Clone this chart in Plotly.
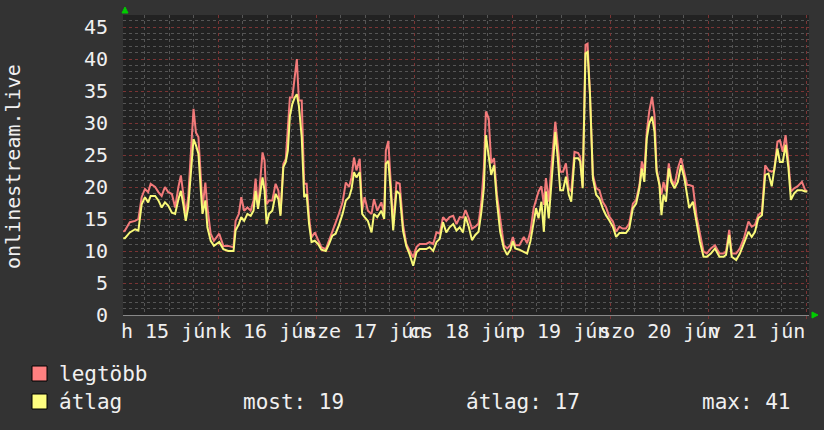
import plotly.graph_objects as go

# ---- data (hours since Mon 15 Jun 00:00) ----
hours = [0.8, 1.2, 2.4, 3.7, 4.5, 5.3, 6.1, 6.9, 7.5, 8.6, 9.4, 10.2, 11.0, 11.8, 12.7, 13.5, 14.3, 14.9,
         15.5, 16.1, 16.7, 17.3, 18.0, 18.6, 19.2, 19.8, 20.2, 20.9, 21.4, 22.2, 23.0, 24.3, 25.3, 26.5,
         27.8, 28.3, 29.1, 29.7, 30.4, 31.2, 32.0, 32.7, 33.2, 33.8, 34.4, 34.9, 35.4, 35.9, 36.5, 37.3,
         38.1, 38.8, 39.3, 40.0, 40.6, 41.1, 41.6, 42.2, 42.8, 43.3, 43.8, 44.5, 45.1, 45.7, 46.3, 46.9,
         47.7, 48.5, 49.3, 50.4, 51.2, 52.0, 52.8, 53.6, 54.5, 55.3, 56.1, 56.7, 57.3, 57.9, 58.7, 59.3,
         59.9, 60.7, 61.6, 62.2, 63.0, 64.0, 64.7, 65.1, 65.7, 66.3, 66.9, 67.7, 68.5, 69.3, 70.1, 70.9,
         71.8, 72.6, 73.4, 74.2, 75.0, 75.8, 76.7, 77.5, 78.3, 79.1, 79.9, 80.7, 81.6, 82.4, 83.2, 84.0,
         84.6, 85.4, 86.2, 87.0, 87.8, 88.5, 89.1, 89.6, 90.3, 90.9, 91.6, 92.3, 93.1, 94.0, 94.8, 95.6,
         96.2, 96.8, 97.8, 98.9, 99.7, 100.5, 101.3, 101.9, 102.5, 103.2, 103.8, 104.3, 105.0, 105.6,
         106.2, 106.6, 107.2, 107.8, 108.5, 109.2, 109.9, 110.5, 111.3, 112.2, 112.7, 113.3, 114.0,
         114.5, 115.1, 115.8, 116.6, 117.4, 118.2, 119.0, 119.8, 120.7, 121.5, 122.3, 123.1, 123.9,
         124.7, 125.6, 126.4, 127.2, 127.8, 128.4, 129.0, 129.6, 130.3, 130.9, 131.4, 132.1, 132.6,
         133.1, 133.7, 134.4, 135.0, 135.8, 136.6, 137.4, 138.2, 138.9, 139.4, 140.3, 141.2, 142.0,
         142.9, 143.7, 144.7, 145.7, 146.8, 147.8, 148.4, 149.2, 149.8, 150.9, 151.8, 152.8, 153.9,
         154.7, 155.5, 156.3, 157.2, 158.0, 158.8, 159.6, 160.2, 161.0, 161.6, 162.3, 163.0, 163.7,
         164.3, 165.1, 165.9, 167.0, 167.8, 168.3]

legtobb = [13.0, 13.2, 14.5, 14.7, 15.0, 18.4, 19.7, 19.2, 20.5, 20.0, 19.2, 18.6, 20.0, 19.2, 18.9, 16.8, 20.0, 21.8,
           18.9, 15.8, 18.4, 24.1, 32.2, 28.5, 27.8, 21.5, 16.8, 20.7, 16.8, 12.7, 11.6, 12.7, 10.8, 10.8,
           10.6, 14.7, 15.8, 18.4, 16.3, 16.8, 16.3, 17.9, 21.3, 16.8, 21.5, 25.4, 24.1, 17.3, 17.9, 17.9,
           20.5, 19.4, 15.8, 23.6, 24.4, 28.8, 34.0, 34.0, 37.9, 40.0, 33.5, 33.5, 20.5, 20.5, 15.3, 12.1,
           12.9, 11.6, 10.6, 10.3, 11.6, 13.2, 14.2, 15.8, 17.6, 20.7, 20.0, 21.5, 24.6, 22.6, 24.4, 16.3,
           18.4, 16.3, 15.8, 18.1, 16.3, 17.6, 15.8, 25.7, 27.2, 20.5, 14.2, 20.7, 20.5, 14.2, 11.1, 10.1,
           9.0, 10.6, 11.1, 11.1, 11.1, 11.4, 11.1, 12.9, 12.7, 15.3, 14.7, 15.3, 15.5, 14.2, 15.3, 15.2,
           16.4, 15.1, 13.5, 13.8, 14.3, 17.7, 22.9, 31.8, 30.7, 23.7, 24.5, 18.8, 14.8, 10.9, 10.4, 10.9,
           12.2, 10.9, 10.9, 12.2, 11.2, 13.0, 16.7, 18.2, 19.3, 20.1, 17.2, 21.4, 17.7, 22.9,
           26.6, 30.2, 26.6, 22.4, 22.4, 23.7, 19.8, 19.3, 25.5, 25.3, 24.7, 20.1, 42.2,
           42.4, 34.4, 21.9, 19.8, 19.5, 17.7, 16.9, 15.4, 14.6, 13.0, 13.8, 13.5, 13.5,
           14.3, 17.4, 18.0, 20.3, 24.0, 22.4, 28.6, 31.8, 34.1, 31.2, 22.9, 20.8, 18.8,
           20.8, 19.3, 23.7, 21.3, 20.3, 22.9, 24.5, 22.4, 20.3, 20.3, 20.1, 15.4, 12.5,
           9.9, 9.6, 10.4, 10.9, 9.6, 9.6, 9.9, 13.3, 9.6, 9.6, 10.4, 12.0, 14.6,
           13.8, 14.1, 15.6, 16.1, 23.4, 22.6, 22.4, 22.6, 27.1, 27.3, 25.5, 28.1, 23.9,
           19.3, 19.8, 20.1, 20.8, 19.5, 19.3]

atlag = [12.0, 12.0, 12.9, 13.4, 13.2, 17.3, 18.4, 17.6, 18.6, 18.6, 17.9, 16.8, 17.6, 17.1, 16.0, 15.8, 18.1, 19.4,
         17.3, 14.7, 16.8, 22.0, 27.5, 26.5, 25.2, 19.4, 15.8, 17.9, 13.7, 11.6, 10.8, 11.4, 10.3, 10.0,
         10.0, 13.2, 14.2, 15.3, 14.7, 15.8, 15.5, 16.3, 19.4, 16.6, 19.4, 21.5, 19.4, 14.2, 15.8, 16.3,
         18.9, 18.1, 15.5, 23.1, 23.9, 25.7, 31.1, 33.0, 34.0, 34.5, 32.7, 27.8, 18.4, 18.9, 14.2, 11.4,
         11.6, 11.1, 10.2, 10.0, 11.1, 12.4, 12.7, 14.0, 15.8, 17.9, 18.4, 19.7, 22.3, 21.5, 22.3, 15.8,
         15.3, 14.7, 12.9, 15.8, 15.3, 16.3, 15.0, 23.6, 24.1, 19.4, 13.2, 19.4, 18.9, 13.2, 10.8, 9.5,
         7.7, 9.8, 10.3, 10.3, 10.3, 10.6, 10.0, 11.4, 11.9, 14.5, 12.9, 13.7, 14.2, 13.2, 13.7, 12.9,
         15.4, 13.8, 11.7, 12.5, 13.0, 16.1, 19.8, 28.1, 24.7, 21.9, 23.4, 17.7, 13.0, 10.4, 9.4, 10.2,
         11.5, 10.4, 10.2, 9.9, 9.6, 11.5, 14.6, 16.7, 15.1, 17.7, 13.0, 19.3, 15.1, 20.3,
         25.5, 28.6, 24.5, 19.5, 19.5, 21.6, 18.8, 17.7, 24.5, 24.5, 24.0, 19.8, 40.9,
         41.1, 34.4, 21.4, 18.8, 18.2, 16.7, 15.6, 14.8, 13.8, 12.2, 12.8, 12.8, 12.8,
         13.5, 16.7, 17.4, 19.8, 22.9, 20.8, 27.6, 29.9, 31.0, 28.6, 22.4, 20.3, 15.6,
         18.8, 17.7, 22.9, 20.8, 19.8, 20.8, 23.4, 21.4, 19.0, 16.7, 17.7, 14.6, 11.5,
         9.1, 9.1, 9.6, 10.4, 9.1, 9.1, 9.4, 12.5, 9.1, 8.6, 9.6, 11.2, 13.0,
         12.2, 13.0, 15.1, 15.6, 21.9, 22.1, 20.1, 22.4, 26.0, 23.9, 23.9, 26.6, 22.9,
         18.0, 19.0, 19.5, 19.5, 19.3, 19.3]

day_labels = ["h 15 jún", "k 16 jún", "sze 17 jún", "cs 18 jún", "p 19 jún", "szo 20 jún", "v 21 jún"]
day_label_hours = [12, 36, 60, 84, 108, 132, 156]
y_ticks = [0, 5, 10, 15, 20, 25, 30, 35, 40, 45]
series_names = ["legtöbb", "átlag"]
stats_text = ["most: 19", "átlag: 17", "max: 41"]
y_title = "onlinestream.live"

# ---- layout geometry (pixels) ----
W, H = 824, 430
PL, PR, PT, PB = 123, 809, 15, 315
PW, PH = PR - PL, PB - PT


def px(x):
    return (x - PL) / PW


def py(y):
    return (PB - y) / PH


RED = "#f27a7a"
YEL = "#f8f878"
MONO = "DejaVu Sans Mono"
TXT = "#f0f0f0"

fig = go.Figure()
fig.add_trace(go.Scatter(x=hours, y=legtobb, mode="lines", line=dict(color=RED, width=2), name=series_names[0]))
fig.add_trace(go.Scatter(x=hours, y=atlag, mode="lines", line=dict(color=YEL, width=2), name=series_names[1]))

ann = []
for t, h in zip(day_labels, day_label_hours):
    ann.append(dict(x=h, y=py(331), xref="x", yref="paper", text=t, showarrow=False,
                    font=dict(family=MONO, size=20, color=TXT), xanchor="center", yanchor="middle"))
ann.append(dict(x=px(13), y=py(167), xref="paper", yref="paper", text=y_title, textangle=-90,
                showarrow=False, font=dict(family=MONO, size=20, color=TXT), xanchor="center", yanchor="middle"))
ann.append(dict(x=px(57), y=py(374), xref="paper", yref="paper", text=series_names[0], showarrow=False,
                font=dict(family=MONO, size=21, color=TXT), xanchor="left", yanchor="middle"))
ann.append(dict(x=px(57), y=py(402), xref="paper", yref="paper", text=series_names[1], showarrow=False,
                font=dict(family=MONO, size=21, color=TXT), xanchor="left", yanchor="middle"))
for t, xx in zip(stats_text, [241, 464, 700]):
    ann.append(dict(x=px(xx), y=py(402), xref="paper", yref="paper", text=t, showarrow=False,
                    font=dict(family=MONO, size=21, color=TXT), xanchor="left", yanchor="middle"))

shapes = [
    dict(type="rect", xref="paper", yref="paper", x0=px(32), x1=px(47), y0=py(381), y1=py(366),
         fillcolor="#ff8080", line=dict(color="black", width=1)),
    dict(type="rect", xref="paper", yref="paper", x0=px(32), x1=px(47), y0=py(409), y1=py(394),
         fillcolor="#ffff80", line=dict(color="black", width=1)),
    # axis arrows
    dict(type="path", xref="paper", yref="paper",
         path=f"M {px(122)} {py(13)} L {px(128)} {py(13)} L {px(125)} {py(7)} Z",
         fillcolor="#00cc00", line=dict(color="#00cc00", width=1)),
    dict(type="path", xref="paper", yref="paper",
         path=f"M {px(812)} {py(312)} L {px(812)} {py(318)} L {px(818)} {py(315)} Z",
         fillcolor="#00cc00", line=dict(color="#00cc00", width=1)),
]

fig.update_layout(
    width=W, height=H,
    margin=dict(l=PL, r=W - PR, t=PT, b=H - PB, pad=0),
    paper_bgcolor="#333333", plot_bgcolor="#222222",
    showlegend=False,
    annotations=ann, shapes=shapes,
    xaxis=dict(range=[0.73, 168.73], tick0=0, dtick=24, showticklabels=False,
               showgrid=True, gridcolor="#7a3434", griddash="dot", gridwidth=1,
               minor=dict(tick0=0, dtick=6, showgrid=True, gridcolor="#555555", griddash="dot", gridwidth=1),
               showline=True, linecolor="#888888", linewidth=1, zeroline=False,
               ticks="outside", ticklen=3, tickcolor="#7a3434"),
    yaxis=dict(range=[0, 46.875], tickvals=y_ticks, ticktext=[str(v) for v in y_ticks],
               showgrid=True, gridcolor="#7a3434", griddash="dot", gridwidth=1,
               minor=dict(tick0=0, dtick=1, showgrid=True, gridcolor="#555555", griddash="dot", gridwidth=1),
               tickfont=dict(family=MONO, size=20, color=TXT), ticklabelstandoff=14,
               zeroline=False, showline=False),
)

fig.write_html("out.html")
